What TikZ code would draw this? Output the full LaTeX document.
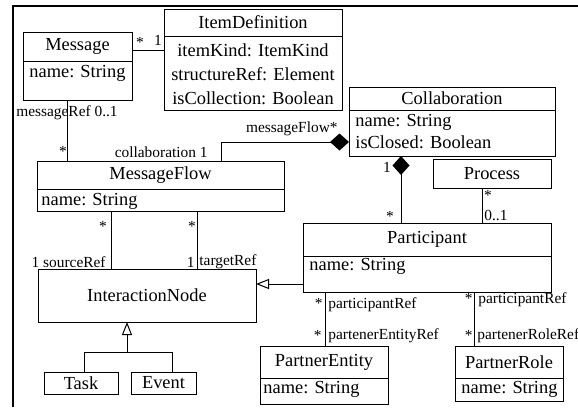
\documentclass[tikz,border=0pt]{standalone}
\usepackage{fontspec}
\setmainfont{Liberation Serif}
\usetikzlibrary{arrows.meta}
\newcommand\umlnode[6]{\node[umlbox,minimum width={(#4-#2)*0.5pt},minimum height={(#5-#3)*0.5pt}] (#1) at ({(#2+#4)/2},{(#3+#5)/2}) {#6};}
\begin{document}
\begin{tikzpicture}[x=0.5pt,y=-0.5pt,
  umlbox/.style={draw,line width=0.5pt,inner sep=0pt,outer sep=0pt,font=\fontsize{9.2}{12}\selectfont},
  attr/.style={inner sep=0pt,anchor=west,align=left,font=\fontsize{9.2}{11}\selectfont},
  lbl/.style={inner sep=0pt,font=\fontsize{7.7}{9}\selectfont},
  conn/.style={line width=0.5pt},
  comp/.style={conn,-{Diamond[length=9.5pt,width=8.5pt]}},
  gen/.style={conn,-{Triangle[open,length=6.5pt,width=5pt]}}]
\useasboundingbox (0,0) rectangle (578,407);
% frame
\draw[line width=1pt] (12.5,407) -- (12.5,5.5) -- (578,5.5);
% Message
\umlnode{msgT}{23}{32}{132}{61}{Message}
\umlnode{msgA}{23}{61}{132}{100}{}
\node[attr] (msgAt) at (29,73) {name: String};
% ItemDefinition
\umlnode{idT}{164}{9}{342}{36}{ItemDefinition}
\umlnode{idA}{164}{36}{342}{110}{}
\node[inner sep=0pt,align=center,font=\fontsize{9.2}{12}\selectfont] (idAt) at (253,74) {itemKind: ItemKind\\structureRef: Element\\isCollection: Boolean};
% Collaboration
\umlnode{collT}{349}{87}{555}{110}{Collaboration}
\umlnode{collA}{349}{110}{555}{156}{}
\node[attr] (collAt) at (355,132) {name: String\\isClosed: Boolean};
% Process
\umlnode{proc}{433}{159}{551}{188}{Process}
% MessageFlow
\umlnode{mfT}{37}{161}{284}{189}{MessageFlow}
\umlnode{mfA}{37}{189}{284}{211}{}
\node[attr] (mfAt) at (41,201) {name: String};
% InteractionNode
\umlnode{inode}{38}{269}{256}{322}{InteractionNode}
% Task, Event
\umlnode{task}{44}{372}{118}{394}{Task}
\umlnode{event}{131}{372}{196}{394}{Event}
% Participant
\umlnode{partT}{303}{223}{551}{256}{Participant}
\umlnode{partA}{303}{256}{551}{292}{}
\node[attr] (partAt) at (309,266) {name: String};
% PartnerEntity
\umlnode{peT}{260}{346}{388}{378}{PartnerEntity}
\umlnode{peA}{260}{378}{388}{404}{}
\node[attr] (peAt) at (263,389) {name: String};
% PartnerRole
\umlnode{prT}{455}{346}{563}{378}{PartnerRole}
\umlnode{prA}{455}{378}{563}{401}{}
\node[attr] (prAt) at (461,389) {name: String};

% Message -- ItemDefinition
\draw[conn] (msgT.east |- 0,50) -- (idA.west |- 0,50);
\node[lbl] (l1) at (140,42) {*};
\node[lbl] (l2) at (158,40) {1};
% messageRef
\draw[conn] (msgA.south -| 67,0) -- (mfT.north -| 67,0);
\node[lbl] (l3) at (67,113) {messageRef 0..1};
\node[lbl] (l4) at (63,151) {*};
% collaboration composition
\draw[comp] (mfT.north -| 221,0) |- (collA.west |- 0,142);
\node[lbl,anchor=east] (l5) at (208,152) {collaboration 1};
\node[lbl,anchor=east] (l6) at (338,129) {messageFlow*};
% Collaboration -- Participant
\draw[comp] (partT.north -| 401,0) -- (collA.south -| 401,0);
\node[lbl] (l7) at (387,167) {1};
\node[lbl] (l8) at (390,216) {*};
% Process -- Participant
\draw[conn] (proc.south -| 482,0) -- (partT.north -| 482,0);
\node[lbl] (l9) at (488,195) {*};
\node[lbl,anchor=west] (l10) at (484,215) {0..1};
% sourceRef / targetRef
\draw[conn] (mfA.south -| 111,0) -- (inode.north -| 111,0);
\draw[conn] (mfA.south -| 197,0) -- (inode.north -| 197,0);
\node[lbl] (l11) at (103,226) {*};
\node[lbl] (l12) at (192,226) {*};
\node[lbl,anchor=east] (l13) at (106,262) {1 sourceRef};
\node[lbl,anchor=east] (l14) at (195,262) {1};
\node[lbl,anchor=west] (l15) at (199,262) {targetRef};
% Participant generalization
\draw[gen] (partA.west |- 0,284) -- (inode.east |- 0,284);
% Task / Event generalization
\coordinate (gj) at (127,352);
\draw[conn] (task.north -| 84,0) |- (gj);
\draw[conn] (event.north -| 172,0) |- (gj);
\draw[gen] (gj) -- (inode.south -| gj);
% Participant -- PartnerEntity
\draw[conn] (partA.south -| 325,0) -- (peT.north -| 325,0);
\node[lbl,anchor=east] (l16) at (323,303) {*};
\node[lbl,anchor=west] (l17) at (328,305) {participantRef};
\node[lbl,anchor=east] (l18) at (322,335) {*};
\node[lbl,anchor=west] (l19) at (328,336) {partenerEntityRef};
% Participant -- PartnerRole
\draw[conn] (partA.south -| 474,0) -- (prT.north -| 474,0);
\node[lbl,anchor=east] (l20) at (473,298) {*};
\node[lbl,anchor=west] (l21) at (478,300) {participantRef};
\node[lbl,anchor=east] (l22) at (473,335) {*};
\node[lbl,anchor=west] (l23) at (477,336) {partenerRoleRef};
\end{tikzpicture}
\end{document}
